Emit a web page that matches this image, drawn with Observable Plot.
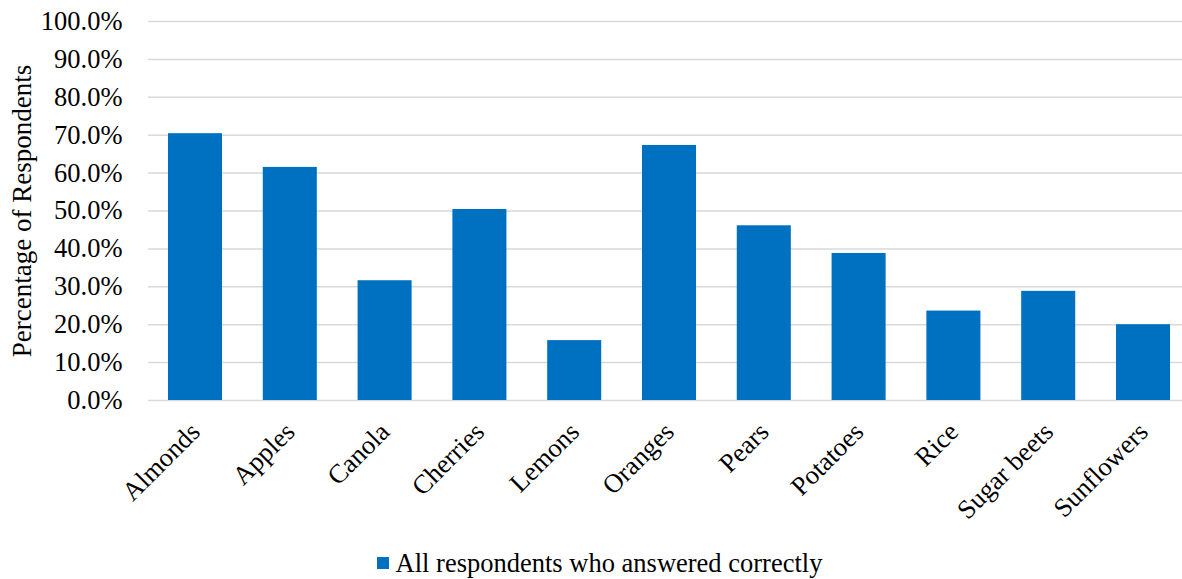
<!DOCTYPE html>
<html>
<head>
<meta charset="utf-8">
<script src="https://cdn.jsdelivr.net/npm/d3@7"></script>
<script src="https://cdn.jsdelivr.net/npm/@observablehq/plot@0.6"></script>
<style>
  html, body { margin: 0; padding: 0; background: #fff; overflow: hidden; }
  #chart svg { display: block; }
  .legend { font-family: "Liberation Serif", "Times New Roman", serif; font-size: 26.5px; color: #000;
            display: flex; align-items: center; justify-content: center; margin-top: 8px; padding-left: 17px; line-height: 30px; }
  .legend .swatch { width: 12px; height: 12px; background: #0070C0; margin-right: 7px; }
</style>
</head>
<body>
<div id="chart"></div>
<div class="legend"><span class="swatch"></span><span>All respondents who answered correctly</span></div>
<script>
// Crops and share of respondents (%) who answered correctly
const crops = ["Almonds", "Apples", "Canola", "Cherries", "Lemons", "Oranges", "Pears", "Potatoes", "Rice", "Sugar beets", "Sunflowers"];
const correct = [70.4, 61.5, 31.6, 50.4, 15.8, 67.3, 46.1, 38.8, 23.6, 28.8, 20.0];
const yTicks = [0, 10, 20, 30, 40, 50, 60, 70, 80, 90, 100];
const seriesName = "All respondents who answered correctly";

const data = crops.map((crop, i) => ({crop, value: correct[i]}));
const fs = 26.5;

const chart = Plot.plot({
  width: 1182,
  height: 540,
  marginLeft: 148,
  marginRight: 0,
  marginTop: 21,
  marginBottom: 140,
  style: {fontFamily: "'Liberation Serif', 'Times New Roman', serif", fontSize: fs + "px", color: "#000", background: "#fff"},
  x: {domain: crops, range: [147.6, 1190.4], paddingInner: 0.43, paddingOuter: 0.215, round: false, label: null},
  y: {domain: [0, 100], label: null},
  marks: [
    Plot.ruleY(yTicks, {stroke: "#d9d9d9", strokeWidth: 1.5}),
    Plot.barY(data, {x: "crop", y: "value", fill: "#0070C0", title: d => `${d.crop}: ${d.value.toFixed(1)}%`}),
    Plot.axisY(yTicks, {tickSize: 0, tickPadding: 26, fontSize: fs, tickFormat: d => d.toFixed(1) + "%", label: null}),
    Plot.axisX({tickSize: 0, tickPadding: 27, fontSize: fs, tickRotate: -45, label: null}),
    Plot.text(["Percentage of Respondents"], {frameAnchor: "left", textAnchor: "middle", dx: -126, rotate: -90, fontSize: 27})
  ]
});
document.getElementById("chart").appendChild(chart);
</script>
</body>
</html>
